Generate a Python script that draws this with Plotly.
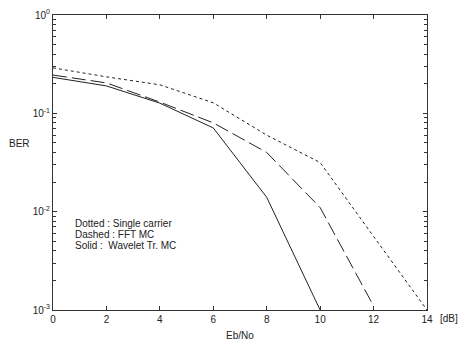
import plotly.graph_objects as go

x_single = [0, 2, 4, 6, 8, 10, 12, 14]
ber_single = [0.29, 0.235, 0.195, 0.128, 0.06, 0.0316, 0.0056, 0.001]
x_fft = [0, 2, 4, 6, 8, 10, 12]
ber_fft = [0.245, 0.204, 0.13, 0.08, 0.04, 0.011, 0.0011]
x_wav = [0, 2, 4, 6, 8, 10]
ber_wav = [0.232, 0.19, 0.127, 0.071, 0.014, 0.001]

xticks = [0, 2, 4, 6, 8, 10, 12, 14]
yticks = [1, 0.1, 0.01, 0.001]
yticktext = ["10<sup>0</sup>", "10<sup>-1</sup>", "10<sup>-2</sup>", "10<sup>-3</sup>"]

legend_lines = ["Dotted : Single carrier", "Dashed : FFT MC", "Solid :  Wavelet Tr. MC"]

fig = go.Figure()
fig.add_trace(go.Scatter(x=x_single, y=ber_single, mode="lines",
                         line=dict(color="#222", width=1, dash="3px,3px")))
fig.add_trace(go.Scatter(x=x_fft, y=ber_fft, mode="lines",
                         line=dict(color="#222", width=1, dash="14px,5px")))
fig.add_trace(go.Scatter(x=x_wav, y=ber_wav, mode="lines",
                         line=dict(color="#222", width=1)))

axcommon = dict(showgrid=False, zeroline=False, showline=True, linecolor="#333",
                linewidth=1, mirror="allticks", ticks="inside", ticklen=4,
                tickcolor="#333", tickfont=dict(size=10, color="#222"), automargin=False)

fig.update_xaxes(range=[0, 14], tickvals=xticks, **axcommon)
fig.update_yaxes(type="log", range=[-3, 0], tickvals=yticks, ticktext=yticktext,
                 minor=dict(ticks="inside", ticklen=3, tickcolor="#333", dtick="D1"),
                 **axcommon)

for i, t in enumerate(legend_lines):
    fig.add_annotation(xref="paper", yref="paper", x=0.053, y=0.294 - i * 0.037,
                       xanchor="left", yanchor="middle", text=t, showarrow=False,
                       align="left", font=dict(size=10, color="#222"))
fig.add_annotation(xref="paper", yref="paper", x=1.029, y=0, xanchor="left", yanchor="top",
                   yshift=-1, text="[dB]", showarrow=False, font=dict(size=10, color="#222"))
fig.add_annotation(xref="paper", yref="paper", x=-0.056, y=0.566, xanchor="right", yanchor="middle",
                   text="BER", showarrow=False, font=dict(size=10, color="#222"))
fig.add_annotation(xref="paper", yref="paper", x=0.5, y=0, xanchor="center", yanchor="middle",
                   yshift=-25, text="Eb/No", showarrow=False, font=dict(size=10, color="#222"))

fig.update_layout(width=458, height=344, showlegend=False,
                  margin=dict(l=53, r=31, t=15, b=34),
                  paper_bgcolor="white", plot_bgcolor="white",
                  font=dict(family="Liberation Sans, Arial, sans-serif", size=10, color="#222"))

fig.write_html("out.html", config={"displayModeBar": False},
               post_script="document.body.style.margin='0';document.documentElement.style.overflow='hidden';")
